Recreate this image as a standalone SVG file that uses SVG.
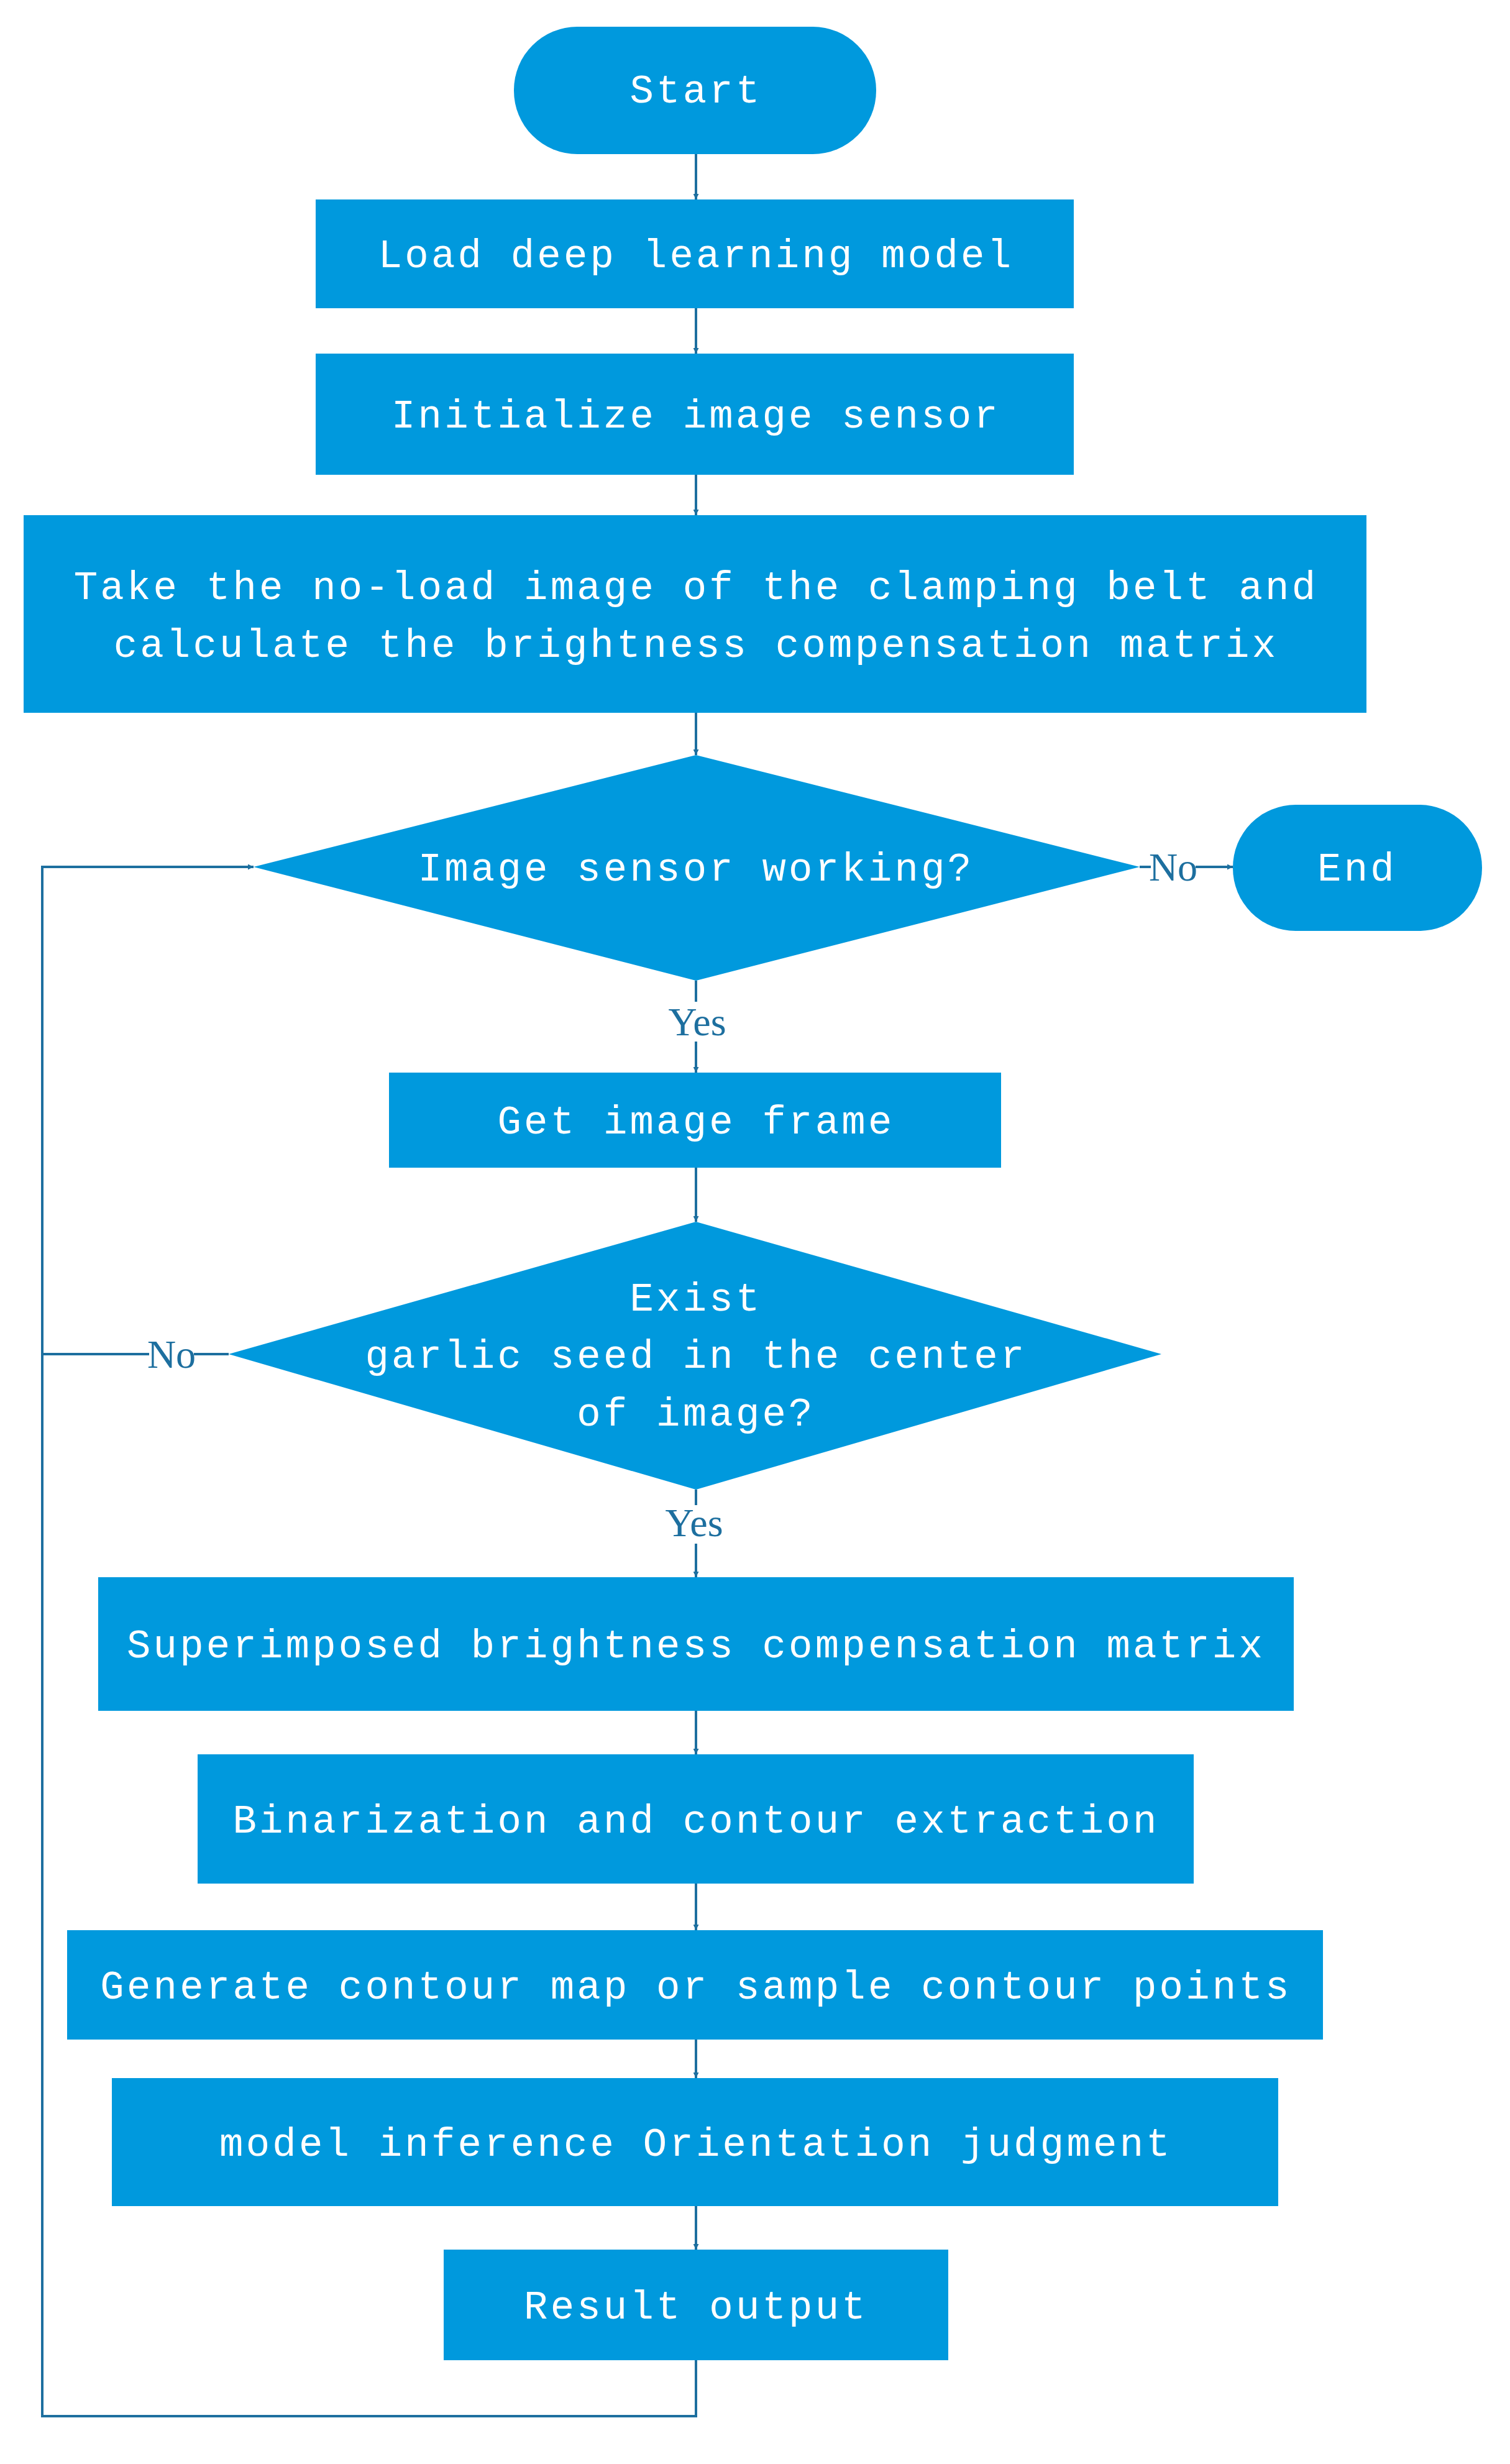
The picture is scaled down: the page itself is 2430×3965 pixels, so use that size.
<svg xmlns="http://www.w3.org/2000/svg" width="2430" height="3965" viewBox="0 0 2430 3965">
<style>
.n{fill:#0099dd}
.t{fill:#fff;font-family:"Liberation Mono",monospace;font-size:64px;letter-spacing:4.2px;text-anchor:middle}
.c{fill:none;stroke:#1d6f9f;stroke-width:4}
.l{fill:#1d6f9f;font-family:"Liberation Serif",serif;font-size:64px;text-anchor:middle}
</style>
<defs><marker id="a" viewBox="0 0 10 10" refX="10" refY="5" markerWidth="9" markerHeight="9" markerUnits="userSpaceOnUse" orient="auto"><path d="M0,0L10,5L0,10z" fill="#1d6f9f"/></marker></defs>
<rect width="2430" height="3965" fill="#fff"/>
<g id="start"><rect class="n" x="827" y="43" width="583" height="205" rx="102"/><text class="t" x="1120" y="165">Start</text></g>
<g id="load"><rect class="n" x="508" y="321" width="1220" height="175"/><text class="t" x="1120" y="430">Load deep learning model</text></g>
<g id="init"><rect class="n" x="508" y="569" width="1220" height="195"/><text class="t" x="1120" y="688">Initialize image sensor</text></g>
<g id="take"><rect class="n" x="38" y="829" width="2161" height="318"/><text class="t" x="1120" y="964">Take the no-load image of the clamping belt and</text><text class="t" x="1120" y="1057">calculate the brightness compensation matrix</text></g>
<g id="d1"><polygon class="n" points="1120,1215 1834,1395 1120,1578 408,1395"/><text class="t" x="1120" y="1417">Image sensor working?</text></g>
<g id="end"><rect class="n" x="1984" y="1295" width="401" height="203" rx="101"/><text class="t" x="2184" y="1417">End</text></g>
<g id="get"><rect class="n" x="626" y="1726" width="985" height="153"/><text class="t" x="1120" y="1824">Get image frame</text></g>
<g id="d2"><polygon class="n" points="1120,1966 1869,2179 1120,2397 368,2179"/><text class="t" x="1120" y="2109">Exist</text><text class="t" x="1120" y="2201">garlic seed in the center</text><text class="t" x="1120" y="2294">of image?</text></g>
<g id="sup"><rect class="n" x="158" y="2538" width="1924" height="215"/><text class="t" x="1120" y="2667">Superimposed brightness compensation matrix</text></g>
<g id="bin"><rect class="n" x="318" y="2823" width="1603" height="208"/><text class="t" x="1120" y="2949">Binarization and contour extraction</text></g>
<g id="gen"><rect class="n" x="108" y="3106" width="2021" height="176"/><text class="t" x="1120" y="3216">Generate contour map or sample contour points</text></g>
<g id="model"><rect class="n" x="180" y="3344" width="1877" height="206"/><text class="t" x="1120" y="3469">model inference Orientation judgment</text></g>
<g id="result"><rect class="n" x="714" y="3620" width="812" height="178"/><text class="t" x="1120" y="3731">Result output</text></g>
<g id="connectors">
<path class="c" d="M1120,248V321" marker-end="url(#a)"/>
<path class="c" d="M1120,496V569" marker-end="url(#a)"/>
<path class="c" d="M1120,764V829" marker-end="url(#a)"/>
<path class="c" d="M1120,1147V1215" marker-end="url(#a)"/>
<path class="c" d="M1120,1578V1612"/><path class="c" d="M1120,1676V1726" marker-end="url(#a)"/>
<text class="l" x="1122" y="1666">Yes</text>
<path class="c" d="M1834,1395H1852"/><path class="c" d="M1924,1395H1984" marker-end="url(#a)"/>
<text class="l" x="1888" y="1417">No</text>
<path class="c" d="M1120,1879V1966" marker-end="url(#a)"/>
<path class="c" d="M1120,2397V2422"/><path class="c" d="M1120,2484V2538" marker-end="url(#a)"/>
<text class="l" x="1117" y="2472">Yes</text>
<path class="c" d="M368,2179H312"/><path class="c" d="M240,2179H68"/>
<text class="l" x="276" y="2201">No</text>
<path class="c" d="M1120,2753V2823" marker-end="url(#a)"/>
<path class="c" d="M1120,3031V3106" marker-end="url(#a)"/>
<path class="c" d="M1120,3282V3344" marker-end="url(#a)"/>
<path class="c" d="M1120,3550V3620" marker-end="url(#a)"/>
<path class="c" d="M1120,3798V3888H68V1395H408" marker-end="url(#a)"/>
</g>
</svg>
